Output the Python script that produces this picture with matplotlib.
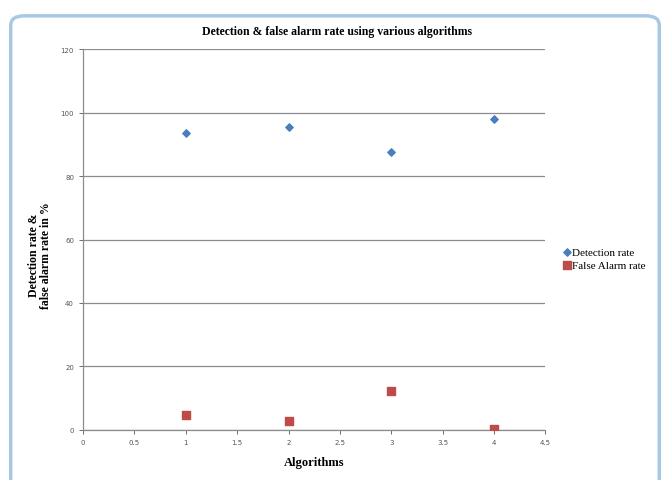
import matplotlib.pyplot as plt
from matplotlib.patches import FancyBboxPatch

# values
algorithms = [1, 2, 3, 4]
detection_rate = [93.5, 95.4, 87.6, 98.0]
false_alarm_rate = [4.7, 2.8, 12.3, 0.2]
x_ticks = [0, 0.5, 1, 1.5, 2, 2.5, 3, 3.5, 4, 4.5]
y_ticks = [0, 20, 40, 60, 80, 100, 120]

fig = plt.figure(figsize=(6.7, 4.81), dpi=100)

# excel-ish outer frame
frame = FancyBboxPatch((0.016, -0.02), 0.968, 0.985, boxstyle="round,pad=0,rounding_size=0.02",
                       transform=fig.transFigure, facecolor="none", edgecolor="#a9c8e4",
                       lw=2.5, zorder=-1)
fig.patches.append(frame)

ax = fig.add_axes([0.124, 0.104, 0.690, 0.792])
ax.patch.set_alpha(0)
ax.scatter(algorithms, detection_rate, marker="D", s=14, color="#4a7ebb", label="Detection rate", zorder=3)
ax.scatter(algorithms, false_alarm_rate, marker="s", s=30, color="#be4b48", label="False Alarm rate", zorder=3)

ax.set_xlim(0, 4.5)
ax.set_ylim(0, 120)
ax.set_xticks(x_ticks)
ax.set_xticklabels([f"{t:g}" for t in x_ticks])
ax.set_yticks(y_ticks)
ax.tick_params(labelsize=5, colors="#555555", length=3, width=0.6)
ax.yaxis.grid(True, color="#8c8c8c", lw=0.9)
ax.set_axisbelow(True)
for s in ["top", "right"]:
    ax.spines[s].set_visible(False)
for s in ["left", "bottom"]:
    ax.spines[s].set_color("#8c8c8c")
    ax.spines[s].set_linewidth(0.9)

# title sits a bit right of the plot centre in the original
ax.set_title("Detection & false alarm rate using various algorithms", x=0.55,
             family="Liberation Serif", fontweight="bold", fontsize=8.5, pad=11)
ax.set_xlabel("Algorithms", family="Liberation Serif", fontweight="bold", fontsize=9, labelpad=8)
ax.set_ylabel("Detection rate &\nfalse alarm rate in %", family="Liberation Serif",
              fontweight="bold", fontsize=8.5, linespacing=1.0)
ax.yaxis.set_label_coords(-0.068, 0.46)

ax.legend(loc="center left", bbox_to_anchor=(1.02, 0.45), frameon=False, handletextpad=0.0,
          handlelength=1.0, borderaxespad=0.2, labelspacing=0.3,
          prop={"family": "Liberation Serif", "size": 8})

fig.savefig("out.png", dpi=100)
